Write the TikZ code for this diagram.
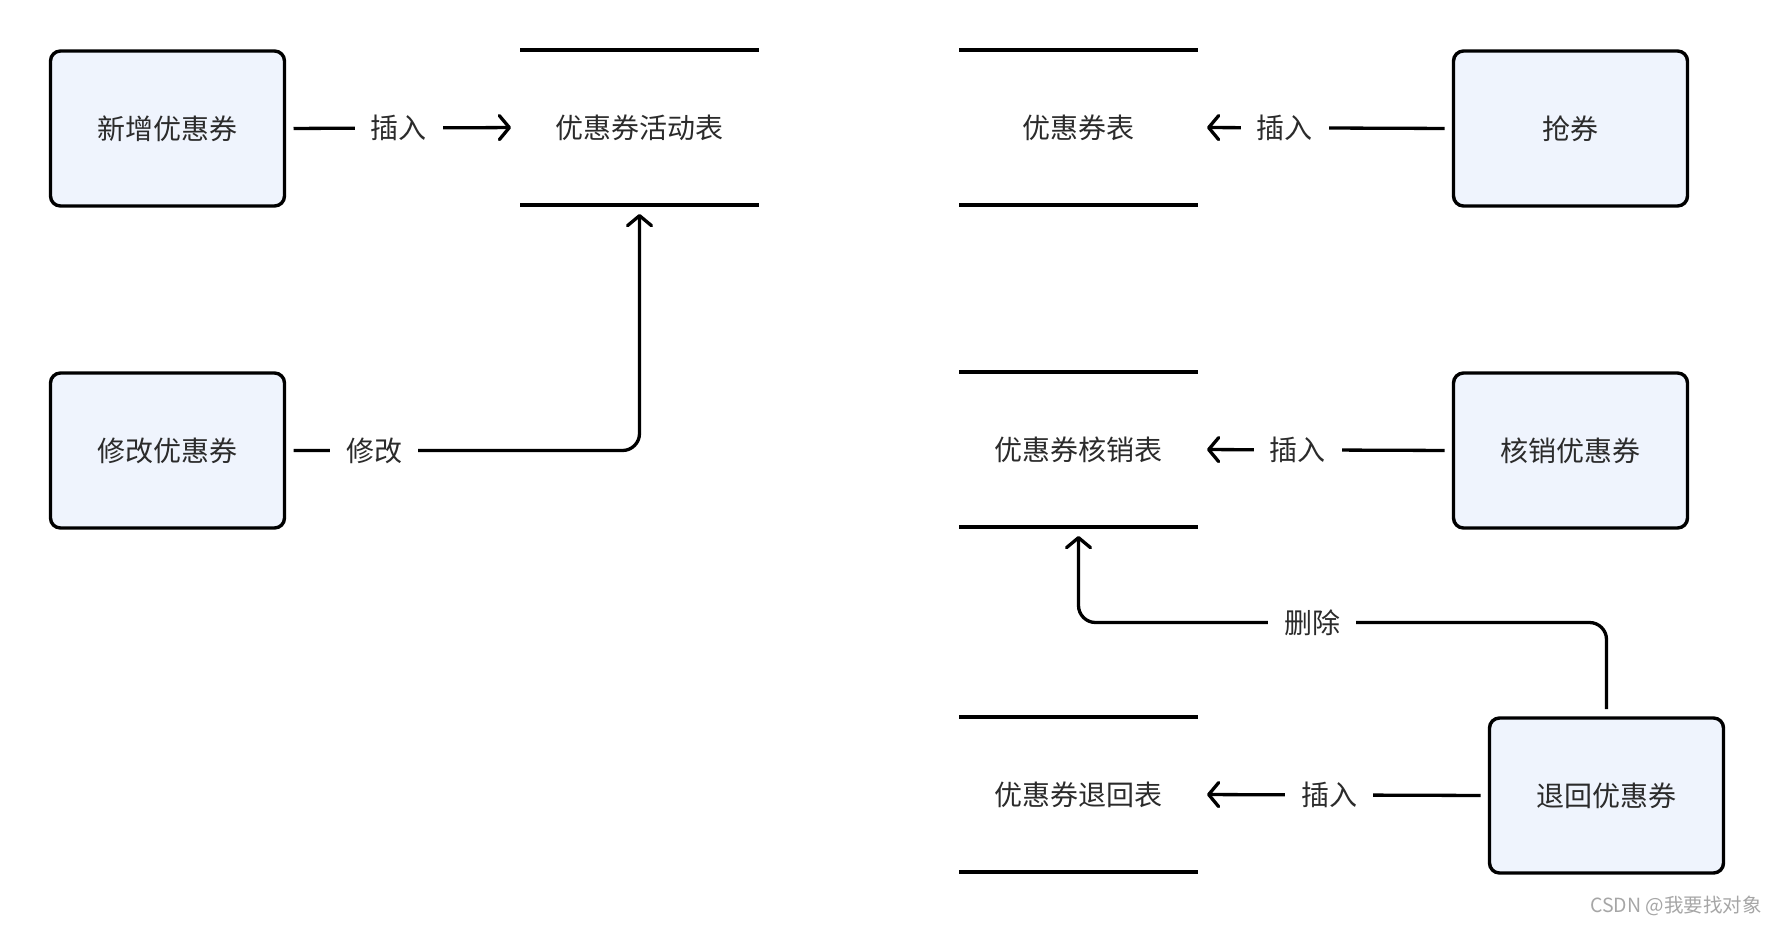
\documentclass[tikz,border=0pt]{standalone}
\usepackage{fontspec}
\setmainfont{Noto Sans CJK SC}
\usetikzlibrary{arrows.meta}
\definecolor{boxfill}{HTML}{EFF4FD}
\definecolor{txt}{HTML}{2B2B2B}
\begin{document}
\begin{tikzpicture}[x=1pt,y=-1pt,
  proc/.style={draw=black, line width=3.4pt, rounded corners=10pt, fill=boxfill,
    minimum width=234pt, minimum height=155pt, inner sep=0pt, outer sep=0pt,
    font=\fontsize{28}{32}\selectfont, text=txt},
  store/.style={minimum width=239pt, minimum height=155pt, inner sep=0pt, outer sep=0pt,
    font=\fontsize{28}{32}\selectfont, text=txt},
  storeline/.style={line width=4.6pt},
  conn/.style={line width=3.3pt, -{Straight Barb[length=10pt,width=24pt,round]},
    shorten <=9pt, shorten >=9pt},
  lbl/.style={fill=white, inner xsep=16pt, inner ysep=4pt,
    font=\fontsize{28}{32}\selectfont, text=txt}
]
\useasboundingbox (0,0) rectangle (1776,924);

% process boxes
\node[proc] (n1) at (167.5,128.5) {新增优惠券};
\node[proc] (n2) at (167.5,450.5) {修改优惠券};
\node[proc] (n3) at (1570.5,128.5) {抢券};
\node[proc] (n4) at (1570.5,450.5) {核销优惠券};
\node[proc] (n5) at (1606.5,795.5) {退回优惠券};

% data stores
\node[store] (t1) at (639.5,127.5) {优惠券活动表};
\node[store] (t2) at (1078.5,127.5) {优惠券表};
\node[store] (t3) at (1078.5,449.5) {优惠券核销表};
\node[store] (t4) at (1078.5,794.5) {优惠券退回表};
\foreach \t in {t1,t2,t3,t4}{
  \draw[storeline] (\t.north west) -- (\t.north east);
  \draw[storeline] (\t.south west) -- (\t.south east);
}

% connectors
\draw[conn] (n1.east) -- (t1.west) node[lbl,pos=0.485] {插入};
\draw[conn, rounded corners=17pt] (n2.east) -| (t1.south);
\node[lbl] (l2) at (374,450.5) {修改};
\draw[conn] (n3.west) -- (t2.east) node[lbl,pos=0.66] {插入};
\draw[conn] (n4.west) -- (t3.east) node[lbl,pos=0.61] {插入};
\draw[conn] (n5.west) -- (t4.east) node[lbl,pos=0.55] {插入};
\coordinate (dl) at (1312,622.5);
\draw[conn, rounded corners=17pt] (n5.north) |- (dl) -| (t3.south);
\node[lbl] (l5) at (dl) {删除};

% watermark
\node[text=gray!70, font=\fontsize{19.5}{22}\selectfont] (wm) at (1676,906) {CSDN @我要找对象};
\end{tikzpicture}
\end{document}
